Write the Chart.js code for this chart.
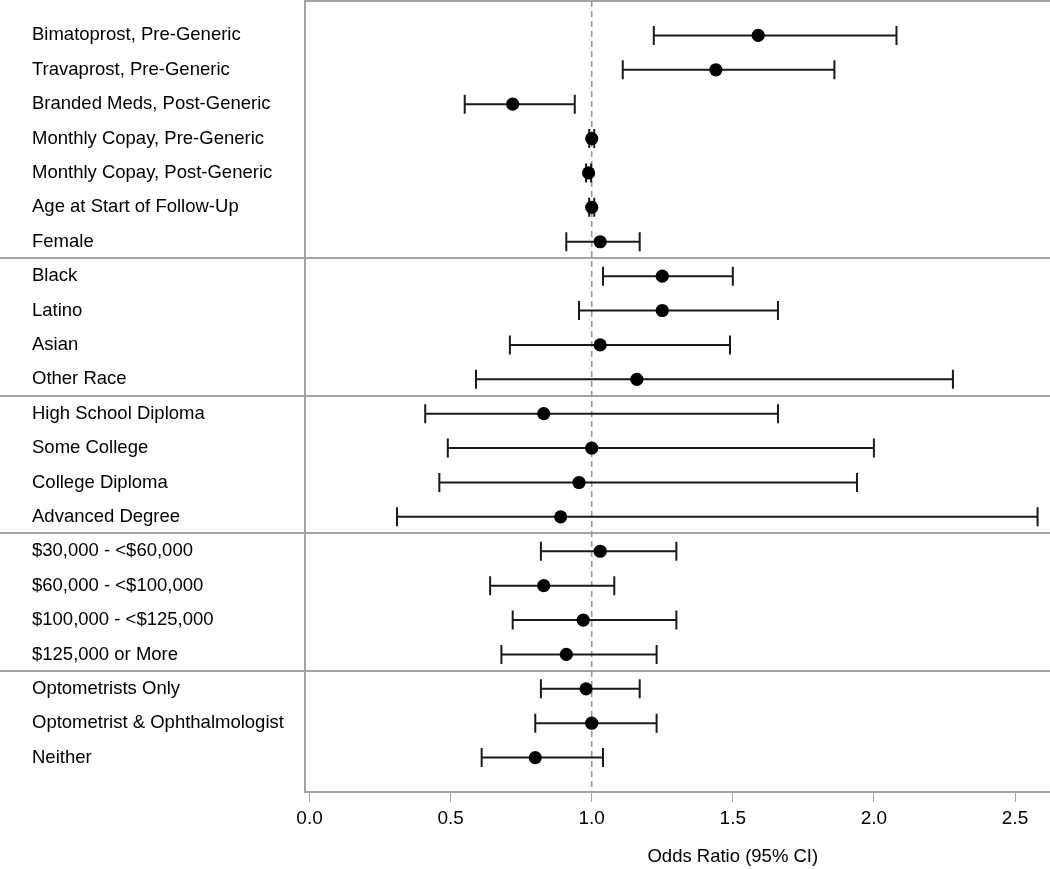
<!DOCTYPE html>
<html>
<head>
<meta charset="utf-8">
<script src="https://cdn.jsdelivr.net/npm/chart.js@4/dist/chart.umd.min.js"></script>
<style>
  html, body { margin: 0; padding: 0; background: #ffffff; }
  #wrap { width: 1050px; height: 869px; position: relative; }
</style>
</head>
<body>
<div id="wrap"><canvas id="c"></canvas></div>
<script>
const rowLabels = [
  "Bimatoprost, Pre-Generic",
  "Travaprost, Pre-Generic",
  "Branded Meds, Post-Generic",
  "Monthly Copay, Pre-Generic",
  "Monthly Copay, Post-Generic",
  "Age at Start of Follow-Up",
  "Female",
  "Black",
  "Latino",
  "Asian",
  "Other Race",
  "High School Diploma",
  "Some College",
  "College Diploma",
  "Advanced Degree",
  "$30,000 - <$60,000",
  "$60,000 - <$100,000",
  "$100,000 - <$125,000",
  "$125,000 or More",
  "Optometrists Only",
  "Optometrist & Ophthalmologist",
  "Neither"
];
const oddsRatio = [1.59, 1.44, 0.72, 1.00, 0.989, 1.00, 1.03,
                   1.25, 1.25, 1.03, 1.16,
                   0.83, 1.00, 0.955, 0.89,
                   1.03, 0.83, 0.97, 0.91,
                   0.98, 1.00, 0.80];
const ciLower   = [1.22, 1.11, 0.55, 0.991, 0.98, 0.991, 0.91,
                   1.04, 0.955, 0.71, 0.59,
                   0.41, 0.49, 0.46, 0.31,
                   0.82, 0.64, 0.72, 0.68,
                   0.82, 0.80, 0.61];
const ciUpper   = [2.08, 1.86, 0.94, 1.009, 0.998, 1.009, 1.17,
                   1.50, 1.66, 1.49, 2.28,
                   1.66, 2.00, 1.94, 2.58,
                   1.30, 1.08, 1.30, 1.23,
                   1.17, 1.23, 1.04];
const groupSizes = [7, 4, 4, 4, 3];
const xTickValues = [0, 0.5, 1.0, 1.5, 2.0, 2.5];
const referenceValue = 1.0;
const xTitle = "Odds Ratio (95% CI)";

const points = oddsRatio.map((v, i) => ({ x: v, y: i + 1 }));

const GRAY = '#a3a3a3';
const FONT = "'Liberation Sans', Arial, sans-serif";

const forestPlugin = {
  id: 'forest',
  beforeDatasetsDraw(chart) {
    const { ctx, chartArea, scales: { x, y } } = chart;
    ctx.save();
    ctx.strokeStyle = GRAY;
    ctx.lineWidth = 2;
    let acc = 0;
    for (let g = 0; g < groupSizes.length - 1; g++) {
      acc += groupSizes[g];
      const py = Math.round(y.getPixelForValue(acc + 0.5)) - 1;
      ctx.beginPath();
      ctx.moveTo(0, py);
      ctx.lineTo(chart.width, py);
      ctx.stroke();
    }
    ctx.beginPath();
    ctx.moveTo(chartArea.left, chartArea.top);
    ctx.lineTo(chartArea.right, chartArea.top);
    ctx.stroke();
    const rx = x.getPixelForValue(referenceValue);
    ctx.strokeStyle = '#999999';
    ctx.lineWidth = 1.6;
    ctx.setLineDash([6, 4]);
    ctx.beginPath();
    ctx.moveTo(rx, chartArea.top);
    ctx.lineTo(rx, chartArea.bottom);
    ctx.stroke();
    ctx.setLineDash([]);
    ctx.strokeStyle = '#1a1a1a';
    ctx.lineWidth = 2;
    const cap = 9.5;
    for (let i = 0; i < oddsRatio.length; i++) {
      const py = y.getPixelForValue(i + 1);
      const x1 = x.getPixelForValue(ciLower[i]);
      const x2 = x.getPixelForValue(ciUpper[i]);
      ctx.beginPath();
      ctx.moveTo(x1, py); ctx.lineTo(x2, py);
      ctx.moveTo(x1, py - cap); ctx.lineTo(x1, py + cap);
      ctx.moveTo(x2, py - cap); ctx.lineTo(x2, py + cap);
      ctx.stroke();
    }
    ctx.restore();
  },
  afterDraw(chart) {
    const { ctx, scales: { x } } = chart;
    ctx.save();
    ctx.fillStyle = '#000000';
    ctx.font = "18.5px " + FONT;
    ctx.textAlign = 'center';
    ctx.textBaseline = 'middle';
    ctx.fillText(xTitle, x.getPixelForValue(1.5), 857);
    ctx.restore();
  }
};

new Chart(document.getElementById('c'), {
  type: 'scatter',
  data: {
    datasets: [{
      data: points,
      backgroundColor: '#000000',
      borderColor: '#000000',
      borderWidth: 0,
      pointRadius: 6.6,
      pointHoverRadius: 6.6,
      clip: false
    }]
  },
  options: {
    responsive: true,
    maintainAspectRatio: false,
    animation: false,
    devicePixelRatio: 1,
    layout: { autoPadding: false, padding: { left: 32, top: 1, right: 0, bottom: 0 } },
    plugins: { legend: { display: false }, tooltip: { enabled: false } },
    scales: {
      x: {
        type: 'linear',
        min: -0.016,
        max: 2.624,
        afterBuildTicks(scale) { scale.ticks = xTickValues.map(v => ({ value: v })); },
        afterFit(scale) { scale.height = 77; scale.paddingLeft = 0; scale.paddingRight = 0; },
        ticks: {
          includeBounds: false,
          autoSkip: false,
          maxRotation: 0,
          padding: 5,
          color: '#000000',
          font: { family: FONT, size: 19 },
          callback: (v) => Number(v).toFixed(1)
        },
        grid: { drawOnChartArea: false, drawTicks: true, tickLength: 10, color: GRAY, tickWidth: 1 },
        border: { display: true, color: GRAY, width: 2 }
      },
      y: {
        type: 'linear',
        min: 0,
        max: rowLabels.length + 1,
        reverse: true,
        afterBuildTicks(scale) { scale.ticks = rowLabels.map((_, i) => ({ value: i + 1 })); },
        afterFit(scale) { scale.width = 273; scale.paddingTop = 0; scale.paddingBottom = 0; },
        ticks: {
          autoSkip: false,
          crossAlign: 'far',
          color: '#000000',
          font: { family: FONT, size: 18.5 },
          callback: (v) => rowLabels[v - 1] || ''
        },
        grid: { display: false, drawTicks: false },
        border: { display: true, color: GRAY, width: 2 }
      }
    }
  },
  plugins: [forestPlugin]
});
</script>
</body>
</html>
